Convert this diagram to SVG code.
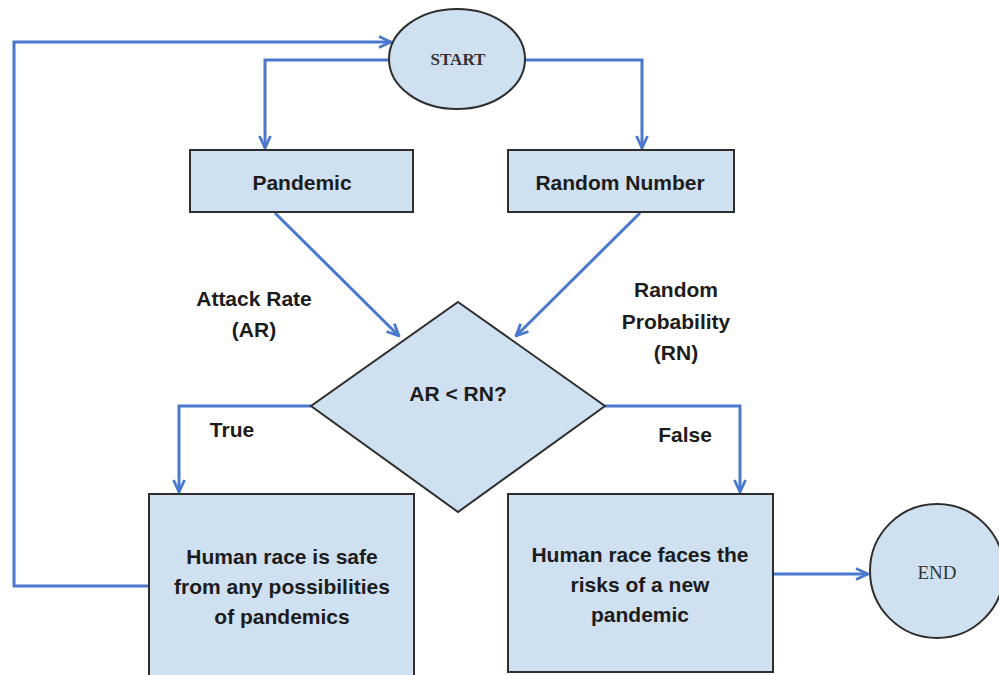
<svg xmlns="http://www.w3.org/2000/svg" width="999" height="675" viewBox="0 0 999 675">
<defs>
<style>
.node{fill:#cfe0f1;stroke:#2e2e2e;stroke-width:2}
.conn{fill:none;stroke:#4a78cc;stroke-width:3}
.t{font-family:"Liberation Sans",Arial,sans-serif;font-weight:bold;font-size:21px;fill:#1c1c1c;text-anchor:middle}
.s{font-family:"Liberation Serif","Times New Roman",serif;fill:#333;text-anchor:middle}
</style>
<marker id="arr" viewBox="0 0 14 14" refX="13" refY="7" markerWidth="14" markerHeight="14" markerUnits="userSpaceOnUse" orient="auto">
<path d="M1,1.5 L13,7 L1,12.5" fill="none" stroke="#4a78cc" stroke-width="2.8"/>
</marker>
</defs>
<rect width="999" height="675" fill="#fff"/>
<g id="connectors">
<path class="conn" d="M150,586 H14 V42 H391" marker-end="url(#arr)"/>
<path class="conn" d="M390,60 H265 V148" marker-end="url(#arr)"/>
<path class="conn" d="M525,60 H642 V148" marker-end="url(#arr)"/>
<path class="conn" d="M275,213 L399,336" marker-end="url(#arr)"/>
<path class="conn" d="M640,213 L516,336" marker-end="url(#arr)"/>
<path class="conn" d="M311,406 H179 V492" marker-end="url(#arr)"/>
<path class="conn" d="M605,406 H740 V492" marker-end="url(#arr)"/>
<path class="conn" d="M773,574 H868" marker-end="url(#arr)"/>
</g>
<g id="start">
<ellipse class="node" cx="457" cy="59" rx="68" ry="50"/>
<text class="s" x="458" y="65" font-size="17" font-weight="bold">START</text>
</g>
<g id="pandemic">
<rect class="node" x="190" y="150" width="223" height="62"/>
<text class="t" x="302" y="190">Pandemic</text>
</g>
<g id="random">
<rect class="node" x="508" y="150" width="226" height="62"/>
<text class="t" x="620" y="190">Random Number</text>
</g>
<g id="label-ar">
<text class="t" x="254" y="306">Attack Rate</text>
<text class="t" x="254" y="337">(AR)</text>
</g>
<g id="label-rn">
<text class="t" x="676" y="297">Random</text>
<text class="t" x="676" y="329">Probability</text>
<text class="t" x="676" y="360">(RN)</text>
</g>
<g id="decision">
<polygon class="node" points="458,302 605,406 458,512 311,406"/>
<text class="t" x="458" y="401">AR &lt; RN?</text>
</g>
<g id="label-true"><text class="t" x="232" y="437">True</text></g>
<g id="label-false"><text class="t" x="685" y="442">False</text></g>
<g id="safe">
<rect class="node" x="149" y="494" width="265" height="185"/>
<text class="t" x="282" y="564">Human race is safe</text>
<text class="t" x="282" y="594">from any possibilities</text>
<text class="t" x="282" y="624">of pandemics</text>
</g>
<g id="risk">
<rect class="node" x="508" y="494" width="265" height="178"/>
<text class="t" x="640" y="562">Human race faces the</text>
<text class="t" x="640" y="592">risks of a new</text>
<text class="t" x="640" y="622">pandemic</text>
</g>
<g id="end">
<ellipse class="node" cx="937" cy="571" rx="67" ry="67"/>
<text class="s" x="937" y="579" font-size="19">END</text>
</g>
</svg>
